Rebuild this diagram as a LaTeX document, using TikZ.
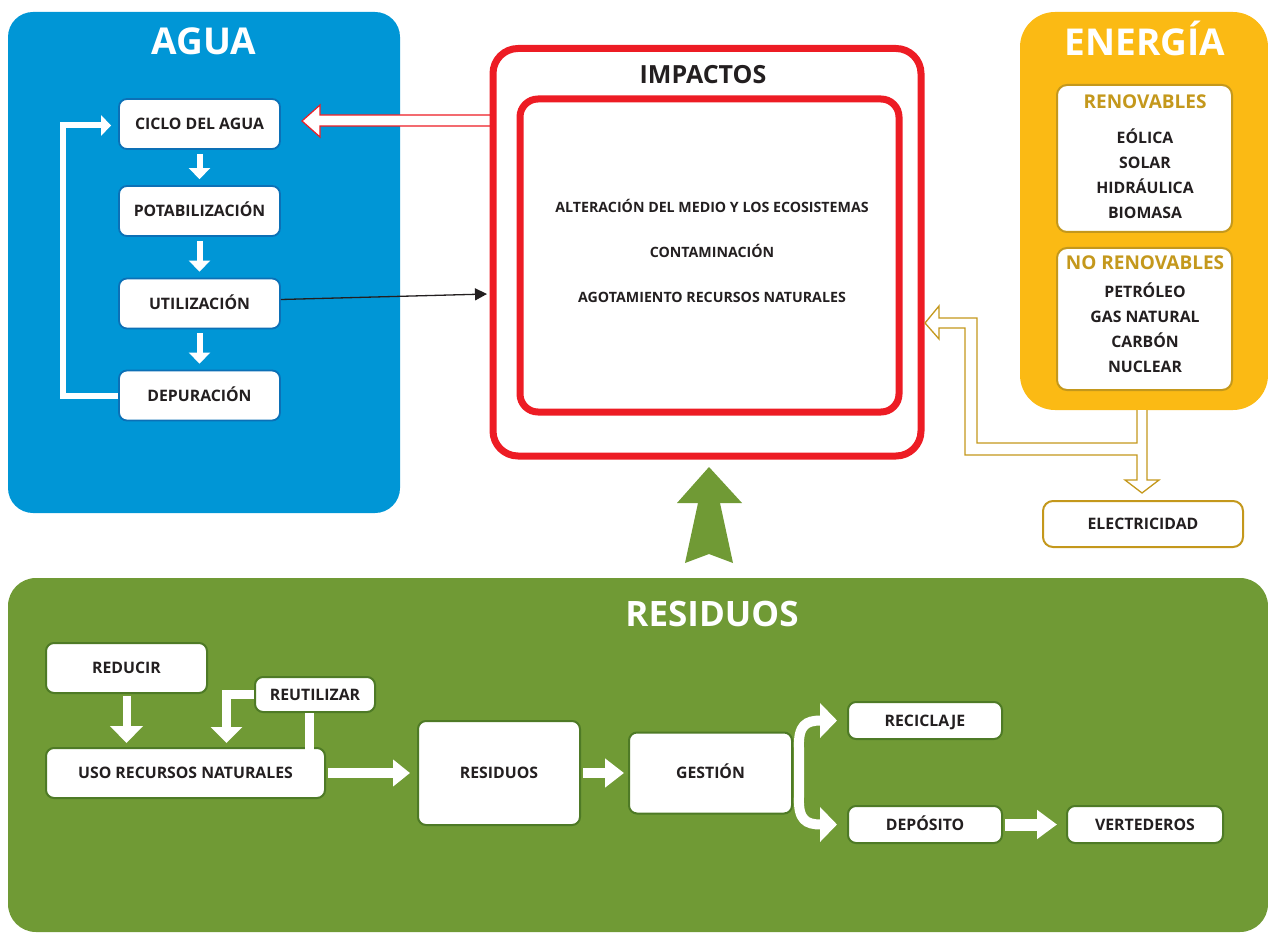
\documentclass[tikz,border=0pt]{standalone}
\usepackage{fontspec}
\setmainfont{Open Sans}
\usetikzlibrary{arrows.meta}
\definecolor{aguablue}{RGB}{0,150,214}
\definecolor{aguaedge}{RGB}{12,112,182}
\definecolor{impred}{RGB}{237,28,36}
\definecolor{enyellow}{RGB}{251,186,20}
\definecolor{engold}{RGB}{196,152,28}
\definecolor{resgreen}{RGB}{112,154,53}
\definecolor{resedge}{RGB}{78,122,38}
\definecolor{txt}{RGB}{35,31,32}
\begin{document}
\begin{tikzpicture}[x=1pt,y=-1pt,
  panel/.style={rectangle,inner sep=0pt,outer sep=0pt},
  ptitle/.style={inner sep=0pt,text=white,text height=26.4pt,text depth=0pt,font=\bfseries\fontsize{37}{40}\selectfont},
  lbl/.style={inner sep=0pt,text=txt,text height=11.3pt,text depth=0pt,font=\bfseries\fontsize{15.8}{18}\selectfont},
  implbl/.style={inner sep=0pt,text=txt,text height=10.1pt,text depth=0pt,font=\bfseries\fontsize{14.2}{16}\selectfont},
  subt/.style={inner sep=0pt,text=engold,text height=13.6pt,text depth=0pt,font=\bfseries\fontsize{19}{22}\selectfont},
  wbox/.style={rectangle,rounded corners=8pt,fill=white,inner sep=0pt,text=txt,text height=11.3pt,text depth=0pt,
    font=\bfseries\fontsize{15.8}{18}\selectfont},
  abox/.style={wbox,draw=aguaedge,line width=1.8pt,minimum width=161pt,minimum height=50pt},
  rbox/.style={wbox,draw=resedge,line width=2pt},
  ebox/.style={rectangle,rounded corners=10pt,fill=white,draw=engold,line width=2pt,inner sep=0pt},
  warrow/.style n args={3}{draw=white,line width=#1,-{Triangle[width=#2,length=#3]}}
]
\useasboundingbox (0,0) rectangle (1268,933);

% ---------- panels ----------
\node[panel,fill=aguablue,rounded corners=25pt,minimum width=392pt,minimum height=501pt] (agua) at (204,262.5) {};
\node[ptitle] (aguat) at (204,41) {AGUA};
\node[panel,fill=enyellow,rounded corners=35pt,minimum width=248pt,minimum height=398pt] (energia) at (1144,211) {};
\node[ptitle] (energiat) at (1145,42) {ENERGÍA};
\node[panel,fill=resgreen,rounded corners=28pt,minimum width=1260pt,minimum height=354pt] (resid) at (638,755) {};
\node[ptitle,text height=25pt,font=\bfseries\fontsize{35}{38}\selectfont] (residt) at (712,614) {RESIDUOS};

% ---------- red hollow arrow (impactos -> ciclo) ----------
\fill[white] (491,115) -- (320,115) -- (320,105) -- (302,121) -- (320,137) -- (320,126) -- (491,126) -- cycle;
\draw[impred,line width=1.2pt,line join=miter] (491,115) -- (320,115) -- (320,105) -- (302,121) -- (320,137) -- (320,126) -- (491,126);

% ---------- impactos ----------
\node[panel,draw=impred,line width=7pt,rounded corners=25pt,minimum width=428pt,minimum height=407.5pt] (impout) at (707,252.25) {};
\node[inner sep=0pt,text=txt,text height=17.8pt,text depth=0pt,font=\bfseries\fontsize{25}{28}\selectfont] (impt) at (703,75) {IMPACTOS};
\node[panel,draw=impred,line width=7pt,rounded corners=18pt,minimum width=379pt,minimum height=313pt] (impin) at (709.5,255.5) {};
\node[implbl] (i1) at (712,207) {ALTERACIÓN DEL MEDIO Y LOS ECOSISTEMAS};
\node[implbl] (i2) at (712,252) {CONTAMINACIÓN};
\node[implbl] (i3) at (712,297) {AGOTAMIENTO RECURSOS NATURALES};

% ---------- agua boxes ----------
\node[abox] (ciclo) at (199.5,124) {CICLO DEL AGUA};
\node[abox] (potab) at (199.5,211) {POTABILIZACIÓN};
\node[abox] (util) at (199.5,303.5) {UTILIZACIÓN};
\node[abox] (depur) at (199.5,395.5) {DEPURACIÓN};
\draw[warrow={6pt}{21pt}{11pt}] ([yshift=-4pt]ciclo.south) -- ([yshift=6pt]potab.north);
\draw[warrow={6pt}{21pt}{11pt}] ([yshift=-4pt]potab.south) -- ([yshift=6pt]util.north);
\draw[warrow={6pt}{21pt}{11pt}] ([yshift=-4pt]util.south) -- ([yshift=6pt]depur.north);
\draw[warrow={6pt}{20pt}{10pt},line join=miter] (depur.west) -- ++(-55.5,0) |- ([xshift=-7pt,yshift=-1.5pt]ciclo.west);

% ---------- black arrow ----------
\coordinate (blk) at (487,294);
\draw[txt,line width=1.3pt,-{Triangle[length=12pt,width=12pt]}] ([yshift=4pt]util.east) -- (blk);

% ---------- energia ----------
\node[ebox,minimum width=175pt,minimum height=147pt] (renov) at (1144.5,158.5) {};
\node[subt] (renovt) at (1145,102) {RENOVABLES};
\node[lbl] (e1) at (1145,138) {EÓLICA};
\node[lbl] (e2) at (1145,163) {SOLAR};
\node[lbl] (e3) at (1145,188) {HIDRÁULICA};
\node[lbl] (e4) at (1145,213) {BIOMASA};
\node[ebox,minimum width=175pt,minimum height=142pt] (norenov) at (1144.5,319) {};
\node[subt] (norenovt) at (1145,263) {NO RENOVABLES};
\node[lbl] (e5) at (1145,292) {PETRÓLEO};
\node[lbl] (e6) at (1145,317) {GAS NATURAL};
\node[lbl] (e7) at (1145,342) {CARBÓN};
\node[lbl] (e8) at (1145,367) {NUCLEAR};

% gold hollow forked arrow
\fill[white] (1137,410) -- (1137,443) -- (977,443) -- (977,318) -- (939,318) -- (939,306) -- (925,323) -- (939,339) -- (939,328) -- (965,328) -- (965,455) -- (1137,455) -- (1137,480) -- (1125,480) -- (1142,493) -- (1159,480) -- (1147,480) -- (1147,410) -- cycle;
\draw[engold,line width=1.3pt,line join=miter] (1137,410) -- (1137,443) -- (977,443) -- (977,318) -- (939,318) -- (939,306) -- (925,323) -- (939,339) -- (939,328) -- (965,328) -- (965,455) -- (1137,455) -- (1137,480) -- (1125,480) -- (1142,493) -- (1159,480) -- (1147,480) -- (1147,410);

\node[ebox,minimum width=200pt,minimum height=46pt,text height=11.3pt,text depth=0pt,font=\bfseries\fontsize{15.8}{18}\selectfont,text=txt] (elec) at (1143,524) {ELECTRICIDAD};

% ---------- green up arrow ----------
\fill[resgreen] (709,467) -- (742,503) -- (720,503) -- (733,563) -- (709,554) -- (685,563) -- (698,503) -- (677,503) -- cycle;

% ---------- residuos boxes ----------
\node[rbox,minimum width=161pt,minimum height=50pt] (reducir) at (126.5,668) {REDUCIR};
\node[rbox,minimum width=120pt,minimum height=35pt] (reutil) at (315,694.5) {REUTILIZAR};
\node[rbox,minimum width=279pt,minimum height=50pt] (uso) at (185.5,773) {USO RECURSOS NATURALES};
\node[rbox,minimum width=162pt,minimum height=104pt] (resbox) at (499,773) {RESIDUOS};
\node[rbox,minimum width=163pt,minimum height=81pt] (gestion) at (710.5,773) {GESTIÓN};
\node[rbox,minimum width=154pt,minimum height=37pt] (recic) at (925,720.5) {RECICLAJE};
\node[rbox,minimum width=154pt,minimum height=37pt] (depos) at (925,824.5) {DEPÓSITO};
\node[rbox,minimum width=156pt,minimum height=37pt] (vert) at (1145,824.5) {VERTEDEROS};

\draw[warrow={8pt}{32pt}{17pt}] ([yshift=-2pt]reducir.south) -- ++(0,47);
\draw[warrow={9pt}{31pt}{16pt},line join=miter] (reutil.west) -- ++(-27.5,0) -- ++(0,48.5);
\draw[white,line width=9pt] ([xshift=-5.5pt]reutil.south) -- ++(0,37);
\draw[warrow={10pt}{26pt}{17pt}] ([xshift=2pt]uso.east) -- ([xshift=-7pt]resbox.west);
\draw[warrow={10pt}{28pt}{19pt}] ([xshift=2pt]resbox.east) -- ([xshift=-4pt]gestion.west);
\coordinate (fork) at ([xshift=6pt]gestion.east);
\draw[warrow={10pt}{34pt}{17pt}] (fork) -- ++(0,-25) .. controls (798,725) and (806,720.5) .. ([xshift=-10pt]recic.west);
\draw[warrow={10pt}{34pt}{17pt}] (fork) -- ++(0,24) .. controls (798,820) and (806,824.5) .. ([xshift=-10pt]depos.west);
\draw[warrow={12pt}{28pt}{20pt}] ([xshift=2pt]depos.east) -- ([xshift=-9pt]vert.west);
\end{tikzpicture}
\end{document}
